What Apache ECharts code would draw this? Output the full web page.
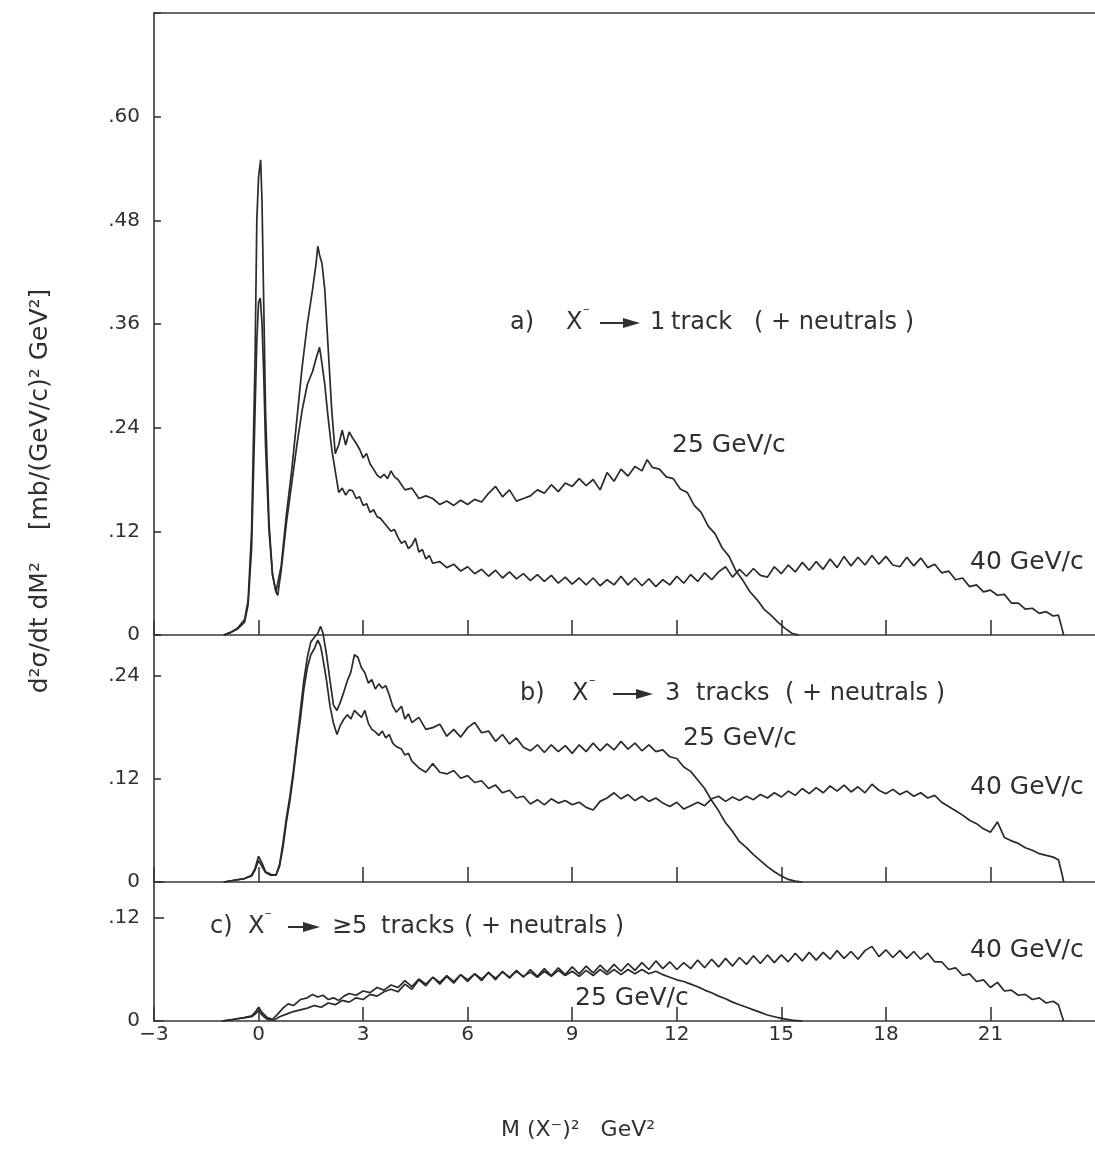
<!DOCTYPE html>
<html>
<head>
<meta charset="utf-8">
<script src="https://cdn.jsdelivr.net/npm/echarts@6/dist/echarts.min.js"></script>
<style>
html,body{margin:0;padding:0;background:#fff;}
#chart{width:1095px;height:1152px;}
</style>
</head>
<body>
<div id="chart"></div>
<script>
// ---- tick labels ----
const xTickLabels = ['\u22123','0','3','6','9','12','15','18','21'];
const yTicksA = ['0','.12','.24','.36','.48','.60'];
const yTicksB = ['0','.12','.24'];
const yTicksC = ['0','.12'];

// ---- panel a) X- -> 1 track ----
const a25 = [[-1.0,0],[-0.8,0.003],[-0.6,0.008],[-0.4,0.018],[-0.3,0.04],[-0.2,0.12],[-0.1,0.32],[-0.05,0.48],[0.0,0.53],[0.06,0.55],[0.1,0.50],[0.15,0.38],[0.2,0.26],[0.3,0.13],[0.4,0.07],[0.5,0.05],[0.55,0.048],[0.65,0.08],[0.8,0.14],[0.95,0.19],[1.1,0.25],[1.25,0.31],[1.4,0.36],[1.55,0.40],[1.65,0.43],[1.7,0.45],[1.75,0.44],[1.82,0.43],[1.9,0.40],[2.0,0.33],[2.1,0.26],[2.2,0.21],[2.3,0.22],[2.4,0.237],[2.5,0.22],[2.6,0.235],[2.7,0.228],[2.8,0.222],[2.9,0.215],[3.0,0.205],[3.1,0.21],[3.2,0.198],[3.3,0.192],[3.4,0.185],[3.5,0.182],[3.6,0.186],[3.7,0.181],[3.8,0.19],[3.9,0.183],[4.0,0.18],[4.2,0.168],[4.4,0.17],[4.6,0.158],[4.8,0.161],[5.0,0.158],[5.2,0.151],[5.4,0.155],[5.6,0.15],[5.8,0.156],[6.0,0.151],[6.2,0.157],[6.4,0.154],[6.6,0.164],[6.8,0.172],[7.0,0.16],[7.2,0.168],[7.4,0.155],[7.6,0.158],[7.8,0.161],[8.0,0.168],[8.2,0.164],[8.4,0.174],[8.6,0.166],[8.8,0.176],[9.0,0.172],[9.2,0.181],[9.4,0.173],[9.6,0.18],[9.8,0.168],[10.0,0.188],[10.2,0.178],[10.4,0.192],[10.6,0.184],[10.8,0.195],[11.0,0.19],[11.15,0.203],[11.3,0.194],[11.5,0.192],[11.7,0.183],[11.9,0.181],[12.1,0.169],[12.3,0.165],[12.5,0.15],[12.7,0.142],[12.9,0.126],[13.1,0.117],[13.3,0.101],[13.5,0.091],[13.7,0.074],[13.9,0.063],[14.1,0.05],[14.3,0.041],[14.5,0.03],[14.7,0.023],[14.9,0.015],[15.1,0.008],[15.3,0.002],[15.5,0]];
const a40 = [[-1.0,0],[-0.8,0.003],[-0.6,0.007],[-0.4,0.015],[-0.3,0.035],[-0.2,0.10],[-0.1,0.26],[-0.05,0.34],[0.0,0.385],[0.05,0.39],[0.1,0.36],[0.15,0.30],[0.2,0.22],[0.3,0.12],[0.4,0.07],[0.5,0.05],[0.55,0.046],[0.65,0.075],[0.8,0.13],[0.95,0.175],[1.1,0.22],[1.25,0.26],[1.4,0.29],[1.55,0.305],[1.65,0.32],[1.75,0.333],[1.8,0.32],[1.9,0.29],[2.0,0.25],[2.1,0.215],[2.2,0.19],[2.3,0.165],[2.4,0.17],[2.5,0.162],[2.6,0.168],[2.7,0.167],[2.8,0.158],[2.9,0.16],[3.0,0.15],[3.1,0.152],[3.2,0.142],[3.3,0.145],[3.4,0.137],[3.5,0.135],[3.6,0.13],[3.7,0.125],[3.8,0.12],[3.9,0.122],[4.0,0.113],[4.1,0.106],[4.2,0.109],[4.3,0.1],[4.4,0.104],[4.5,0.112],[4.6,0.096],[4.7,0.099],[4.8,0.088],[4.9,0.092],[5.0,0.083],[5.2,0.085],[5.4,0.078],[5.6,0.082],[5.8,0.074],[6.0,0.079],[6.2,0.071],[6.4,0.076],[6.6,0.068],[6.8,0.075],[7.0,0.066],[7.2,0.073],[7.4,0.065],[7.6,0.071],[7.8,0.063],[8.0,0.07],[8.2,0.062],[8.4,0.069],[8.6,0.06],[8.8,0.067],[9.0,0.059],[9.2,0.066],[9.4,0.058],[9.6,0.066],[9.8,0.057],[10.0,0.064],[10.2,0.058],[10.4,0.068],[10.6,0.058],[10.8,0.066],[11.0,0.057],[11.2,0.065],[11.4,0.056],[11.6,0.064],[11.8,0.058],[12.0,0.068],[12.2,0.06],[12.4,0.07],[12.6,0.062],[12.8,0.072],[13.0,0.064],[13.2,0.073],[13.4,0.079],[13.6,0.067],[13.8,0.076],[14.0,0.068],[14.2,0.077],[14.4,0.069],[14.6,0.067],[14.8,0.079],[15.0,0.071],[15.2,0.081],[15.4,0.073],[15.6,0.084],[15.8,0.075],[16.0,0.085],[16.2,0.076],[16.4,0.088],[16.6,0.078],[16.8,0.091],[17.0,0.08],[17.2,0.09],[17.4,0.081],[17.6,0.092],[17.8,0.082],[18.0,0.091],[18.2,0.081],[18.4,0.079],[18.6,0.09],[18.8,0.08],[19.0,0.089],[19.2,0.078],[19.4,0.082],[19.6,0.072],[19.8,0.074],[20.0,0.064],[20.2,0.066],[20.4,0.056],[20.6,0.058],[20.8,0.05],[21.0,0.052],[21.2,0.046],[21.4,0.047],[21.6,0.037],[21.8,0.037],[22.0,0.03],[22.2,0.031],[22.4,0.025],[22.6,0.027],[22.8,0.022],[22.95,0.023],[23.05,0.008],[23.1,0]];

// ---- panel b) X- -> 3 tracks ----
const b25 = [[-1.0,0],[-0.7,0.002],[-0.4,0.004],[-0.2,0.008],[-0.1,0.016],[0.0,0.03],[0.1,0.022],[0.2,0.012],[0.35,0.009],[0.5,0.008],[0.6,0.02],[0.7,0.045],[0.8,0.075],[0.9,0.1],[1.0,0.13],[1.1,0.165],[1.2,0.2],[1.3,0.235],[1.4,0.262],[1.5,0.28],[1.6,0.285],[1.7,0.29],[1.78,0.298],[1.85,0.29],[1.95,0.265],[2.05,0.235],[2.15,0.206],[2.25,0.2],[2.35,0.21],[2.45,0.222],[2.55,0.235],[2.65,0.245],[2.75,0.265],[2.85,0.262],[2.95,0.25],[3.05,0.244],[3.15,0.232],[3.25,0.236],[3.35,0.225],[3.45,0.231],[3.55,0.226],[3.65,0.229],[3.75,0.218],[3.85,0.205],[3.95,0.198],[4.1,0.205],[4.2,0.19],[4.3,0.196],[4.4,0.186],[4.6,0.192],[4.8,0.178],[5.0,0.18],[5.2,0.184],[5.4,0.17],[5.6,0.178],[5.8,0.169],[6.0,0.18],[6.2,0.186],[6.4,0.174],[6.6,0.176],[6.8,0.164],[7.0,0.172],[7.2,0.161],[7.4,0.168],[7.6,0.157],[7.8,0.153],[8.0,0.16],[8.2,0.151],[8.4,0.16],[8.6,0.152],[8.8,0.159],[9.0,0.15],[9.2,0.16],[9.4,0.152],[9.6,0.162],[9.8,0.153],[10.0,0.161],[10.2,0.154],[10.4,0.164],[10.6,0.155],[10.8,0.162],[11.0,0.153],[11.2,0.16],[11.4,0.152],[11.6,0.154],[11.8,0.146],[12.0,0.144],[12.2,0.134],[12.4,0.129],[12.6,0.119],[12.8,0.109],[13.0,0.095],[13.2,0.083],[13.4,0.069],[13.6,0.059],[13.8,0.047],[14.0,0.04],[14.2,0.032],[14.4,0.025],[14.6,0.018],[14.8,0.012],[15.0,0.007],[15.2,0.003],[15.4,0.001],[15.6,0]];
const b40 = [[-1.0,0],[-0.7,0.002],[-0.4,0.004],[-0.2,0.007],[-0.1,0.014],[0.0,0.025],[0.1,0.018],[0.2,0.011],[0.35,0.008],[0.5,0.008],[0.6,0.018],[0.7,0.04],[0.8,0.07],[0.9,0.095],[1.0,0.125],[1.1,0.16],[1.2,0.19],[1.3,0.225],[1.4,0.25],[1.5,0.265],[1.6,0.272],[1.7,0.282],[1.78,0.275],[1.85,0.26],[1.95,0.235],[2.05,0.205],[2.15,0.185],[2.25,0.172],[2.35,0.183],[2.45,0.19],[2.55,0.195],[2.65,0.19],[2.75,0.2],[2.85,0.196],[2.95,0.192],[3.05,0.2],[3.15,0.185],[3.25,0.178],[3.35,0.175],[3.45,0.171],[3.55,0.176],[3.65,0.168],[3.75,0.172],[3.85,0.162],[3.95,0.158],[4.1,0.155],[4.2,0.148],[4.3,0.15],[4.4,0.141],[4.6,0.133],[4.8,0.128],[5.0,0.138],[5.2,0.128],[5.4,0.126],[5.6,0.13],[5.8,0.121],[6.0,0.124],[6.2,0.116],[6.4,0.118],[6.6,0.109],[6.8,0.113],[7.0,0.104],[7.2,0.107],[7.4,0.098],[7.6,0.1],[7.8,0.091],[8.0,0.096],[8.2,0.09],[8.4,0.097],[8.6,0.092],[8.8,0.095],[9.0,0.09],[9.2,0.093],[9.4,0.087],[9.6,0.084],[9.8,0.094],[10.0,0.098],[10.2,0.104],[10.4,0.097],[10.6,0.102],[10.8,0.095],[11.0,0.1],[11.2,0.094],[11.4,0.098],[11.6,0.092],[11.8,0.088],[12.0,0.093],[12.2,0.085],[12.4,0.089],[12.6,0.093],[12.8,0.089],[13.0,0.097],[13.2,0.1],[13.4,0.094],[13.6,0.099],[13.8,0.095],[14.0,0.1],[14.2,0.096],[14.4,0.102],[14.6,0.098],[14.8,0.104],[15.0,0.099],[15.2,0.106],[15.4,0.101],[15.6,0.109],[15.8,0.103],[16.0,0.11],[16.2,0.104],[16.4,0.112],[16.6,0.106],[16.8,0.113],[17.0,0.105],[17.2,0.111],[17.4,0.104],[17.6,0.114],[17.8,0.107],[18.0,0.103],[18.2,0.108],[18.4,0.102],[18.6,0.106],[18.8,0.1],[19.0,0.104],[19.2,0.098],[19.4,0.101],[19.6,0.093],[19.8,0.088],[20.0,0.083],[20.2,0.078],[20.4,0.072],[20.6,0.068],[20.8,0.062],[21.0,0.058],[21.2,0.07],[21.4,0.052],[21.6,0.048],[21.8,0.045],[22.0,0.04],[22.2,0.037],[22.4,0.033],[22.6,0.031],[22.8,0.029],[22.95,0.026],[23.05,0.01],[23.1,0]];

// ---- panel c) X- -> >=5 tracks ----
const c25 = [[-1.05,0],[-0.7,0.002],[-0.4,0.004],[-0.2,0.006],[-0.1,0.01],[0.0,0.016],[0.1,0.01],[0.25,0.004],[0.4,0.002],[0.55,0.008],[0.7,0.015],[0.85,0.02],[1.0,0.018],[1.2,0.025],[1.4,0.027],[1.55,0.031],[1.7,0.028],[1.85,0.03],[2.0,0.025],[2.15,0.027],[2.3,0.024],[2.45,0.029],[2.6,0.032],[2.8,0.03],[3.0,0.035],[3.2,0.033],[3.4,0.039],[3.6,0.036],[3.8,0.042],[4.0,0.039],[4.2,0.047],[4.4,0.04],[4.6,0.049],[4.8,0.043],[5.0,0.051],[5.2,0.045],[5.4,0.053],[5.6,0.046],[5.8,0.054],[6.0,0.048],[6.2,0.055],[6.4,0.049],[6.6,0.056],[6.8,0.05],[7.0,0.057],[7.2,0.051],[7.4,0.058],[7.6,0.052],[7.8,0.057],[8.0,0.051],[8.2,0.058],[8.4,0.052],[8.6,0.059],[8.8,0.053],[9.0,0.058],[9.2,0.052],[9.4,0.059],[9.6,0.053],[9.8,0.06],[10.0,0.054],[10.2,0.06],[10.4,0.054],[10.6,0.06],[10.8,0.055],[11.0,0.06],[11.2,0.055],[11.4,0.058],[11.6,0.054],[11.8,0.051],[12.0,0.048],[12.2,0.046],[12.4,0.043],[12.6,0.04],[12.8,0.036],[13.0,0.033],[13.2,0.029],[13.4,0.026],[13.6,0.022],[13.8,0.019],[14.0,0.016],[14.2,0.013],[14.4,0.01],[14.6,0.007],[14.8,0.005],[15.0,0.003],[15.3,0.001],[15.6,0]];
const c40 = [[-1.05,0],[-0.7,0.002],[-0.4,0.004],[-0.2,0.005],[-0.1,0.008],[0.0,0.012],[0.1,0.007],[0.25,0.002],[0.45,0.001],[0.6,0.005],[0.8,0.008],[1.0,0.011],[1.2,0.013],[1.4,0.015],[1.6,0.018],[1.8,0.016],[2.0,0.021],[2.2,0.019],[2.4,0.024],[2.6,0.022],[2.8,0.027],[3.0,0.025],[3.2,0.031],[3.4,0.029],[3.6,0.034],[3.8,0.037],[4.0,0.034],[4.2,0.043],[4.4,0.037],[4.6,0.048],[4.8,0.041],[5.0,0.051],[5.2,0.043],[5.4,0.052],[5.6,0.044],[5.8,0.054],[6.0,0.046],[6.2,0.055],[6.4,0.047],[6.6,0.057],[6.8,0.048],[7.0,0.058],[7.2,0.05],[7.4,0.059],[7.6,0.051],[7.8,0.06],[8.0,0.052],[8.2,0.061],[8.4,0.053],[8.6,0.062],[8.8,0.054],[9.0,0.063],[9.2,0.055],[9.4,0.064],[9.6,0.056],[9.8,0.065],[10.0,0.057],[10.2,0.066],[10.4,0.058],[10.6,0.067],[10.8,0.059],[11.0,0.068],[11.2,0.06],[11.4,0.07],[11.6,0.061],[11.8,0.069],[12.0,0.06],[12.2,0.068],[12.4,0.061],[12.6,0.071],[12.8,0.062],[13.0,0.072],[13.2,0.063],[13.4,0.073],[13.6,0.064],[13.8,0.074],[14.0,0.066],[14.2,0.076],[14.4,0.067],[14.6,0.077],[14.8,0.068],[15.0,0.077],[15.2,0.069],[15.4,0.079],[15.6,0.07],[15.8,0.08],[16.0,0.071],[16.2,0.08],[16.4,0.072],[16.6,0.082],[16.8,0.073],[17.0,0.081],[17.2,0.072],[17.4,0.082],[17.6,0.087],[17.8,0.075],[18.0,0.083],[18.2,0.074],[18.4,0.082],[18.6,0.073],[18.8,0.081],[19.0,0.072],[19.2,0.079],[19.4,0.069],[19.6,0.069],[19.8,0.06],[20.0,0.062],[20.2,0.053],[20.4,0.055],[20.6,0.046],[20.8,0.048],[21.0,0.039],[21.2,0.045],[21.4,0.035],[21.6,0.036],[21.8,0.03],[22.0,0.031],[22.2,0.025],[22.4,0.027],[22.6,0.021],[22.8,0.023],[22.95,0.019],[23.05,0.006],[23.1,0]];

// ---- axis settings ----
const xMin = -3, xMax = 24, xStep = 3;
const yStep = 0.12;
const yMaxA = 0.72, yMaxB = 0.288, yMaxC = 0.162;
const xTickValues = xTickLabels.map(function(_, i){ return xMin + i * xStep; });

const INK = '#303030';
const FONT = '"DejaVu Sans", "Noto Sans", sans-serif';

function yFmt(labels){
  return function(v){
    const k = Math.round(v / yStep);
    return (Math.abs(v - k * yStep) < 1e-6 && k >= 0 && k < labels.length) ? labels[k] : '';
  };
}
function xFmt(v){
  const k = Math.round((v - xMin) / xStep);
  return (Math.abs(v - (xMin + k * xStep)) < 1e-6 && k >= 0 && k < xTickLabels.length) ? xTickLabels[k] : '';
}

const axisLineStyle = {color: '#383838', width: 1.6};

function xAxisFor(grid, showLabels, tickLen){
  return {
    type: 'value', gridIndex: grid, min: xMin, max: xMax, interval: xStep,
    position: 'bottom',
    axisLine: {show: true, onZero: false, lineStyle: axisLineStyle},
    axisTick: {show: true, inside: true, length: tickLen, customValues: xTickValues,
               lineStyle: {color: '#383838', width: 1.6}},
    axisLabel: {show: showLabels, formatter: xFmt, customValues: xTickValues,
                color: INK, fontSize: 20, fontFamily: FONT, margin: 4},
    splitLine: {show: false}
  };
}
function yAxisFor(grid, max, labels, tickLen){
  return {
    type: 'value', gridIndex: grid, min: 0, max: max, interval: yStep,
    axisLine: {show: true, onZero: false, lineStyle: axisLineStyle},
    axisTick: {show: true, inside: true, length: tickLen, lineStyle: {color: '#383838', width: 1.6}},
    axisLabel: {formatter: yFmt(labels), color: INK, fontSize: 20, fontFamily: FONT, margin: 14},
    splitLine: {show: false}
  };
}
function lineSeries(data, xi, yi){
  return {
    type: 'line', data: data, xAxisIndex: xi, yAxisIndex: yi,
    showSymbol: false, symbol: 'none', clip: false, smooth: false,
    lineStyle: {color: '#2a2a2a', width: 1.7}, z: 3
  };
}

// ---- annotation helpers ----
function txt(s, x, y, size, extra){
  return Object.assign({type: 'text', x: x, y: y, silent: true,
    style: {text: s, fill: INK, font: size + 'px ' + FONT, textVerticalAlign: 'middle'}}, extra || {});
}
function xMinus(x, y){
  return [txt('X', x, y, 24), txt('\u2013', x + 17, y - 13, 13)];
}
function arrow(x, y, len){
  return [
    {type: 'line', silent: true, shape: {x1: x, y1: y, x2: x + len - 12, y2: y}, style: {stroke: INK, lineWidth: 2}},
    {type: 'polygon', silent: true, shape: {points: [[x + len - 17, y - 5], [x + len, y], [x + len - 17, y + 5]]}, style: {fill: INK}}
  ];
}

const yName = 'd\u00B2\u03C3/dt dM\u00B2    [mb/(GeV/c)\u00B2 GeV\u00B2]';
const xName = 'M (X\u207B)\u00B2   GeV\u00B2';

const graphics = [].concat(
  // panel a title
  [txt('a)', 510, 323, 24)], xMinus(566, 323), arrow(600, 323, 40),
  [txt('1', 650, 323, 24), txt('track', 671, 323, 24), txt('( + neutrals )', 754, 323, 24)],
  [txt('25 GeV/c', 672, 445, 25), txt('40 GeV/c', 970, 562, 25)],
  // panel b title
  [txt('b)', 520, 694, 24)], xMinus(572, 694), arrow(613, 694, 40),
  [txt('3', 665, 694, 24), txt('tracks', 696, 694, 24), txt('( + neutrals )', 785, 694, 24)],
  [txt('25 GeV/c', 683, 738, 25), txt('40 GeV/c', 970, 787, 25)],
  // panel c title
  [txt('c)', 210, 927, 24)], xMinus(248, 927), arrow(288, 927, 32),
  [txt('\u2265', 332, 927, 24), txt('5', 352, 927, 24), txt('tracks', 381, 927, 24), txt('( + neutrals )', 464, 927, 24)],
  [txt('40 GeV/c', 970, 950, 25), txt('25 GeV/c', 575, 998, 25)],
  // axis names
  [{type: 'text', x: 40, y: 491, rotation: Math.PI / 2, silent: true,
    style: {text: yName, fill: INK, font: '25px ' + FONT, textAlign: 'center', textVerticalAlign: 'middle'}},
   {type: 'text', x: 578, y: 1130, silent: true,
    style: {text: xName, fill: INK, font: '22px ' + FONT, textAlign: 'center', textVerticalAlign: 'middle'}}]
);

const chart = echarts.init(document.getElementById('chart'), null, {renderer: 'canvas'});
chart.setOption({
  animation: false,
  backgroundColor: '#ffffff',
  grid: [
    {left: 154, right: 0, top: 13, height: 622},
    {left: 154, right: 0, top: 635, height: 247},
    {left: 154, right: 0, top: 882, height: 139}
  ],
  xAxis: [
    xAxisFor(0, false, 15),
    xAxisFor(1, false, 15),
    xAxisFor(2, true, 14),
    {type: 'value', gridIndex: 0, min: xMin, max: xMax, position: 'top',
     axisLine: {show: true, onZero: false, lineStyle: axisLineStyle},
     axisTick: {show: false}, axisLabel: {show: false}, splitLine: {show: false}}
  ],
  yAxis: [
    yAxisFor(0, yMaxA, yTicksA, 7),
    yAxisFor(1, yMaxB, yTicksB, 7),
    yAxisFor(2, yMaxC, yTicksC, 10)
  ],
  series: [
    lineSeries(a25, 0, 0), lineSeries(a40, 0, 0),
    lineSeries(b25, 1, 1), lineSeries(b40, 1, 1),
    lineSeries(c25, 2, 2), lineSeries(c40, 2, 2)
  ],
  graphic: graphics
});
</script>
</body>
</html>
